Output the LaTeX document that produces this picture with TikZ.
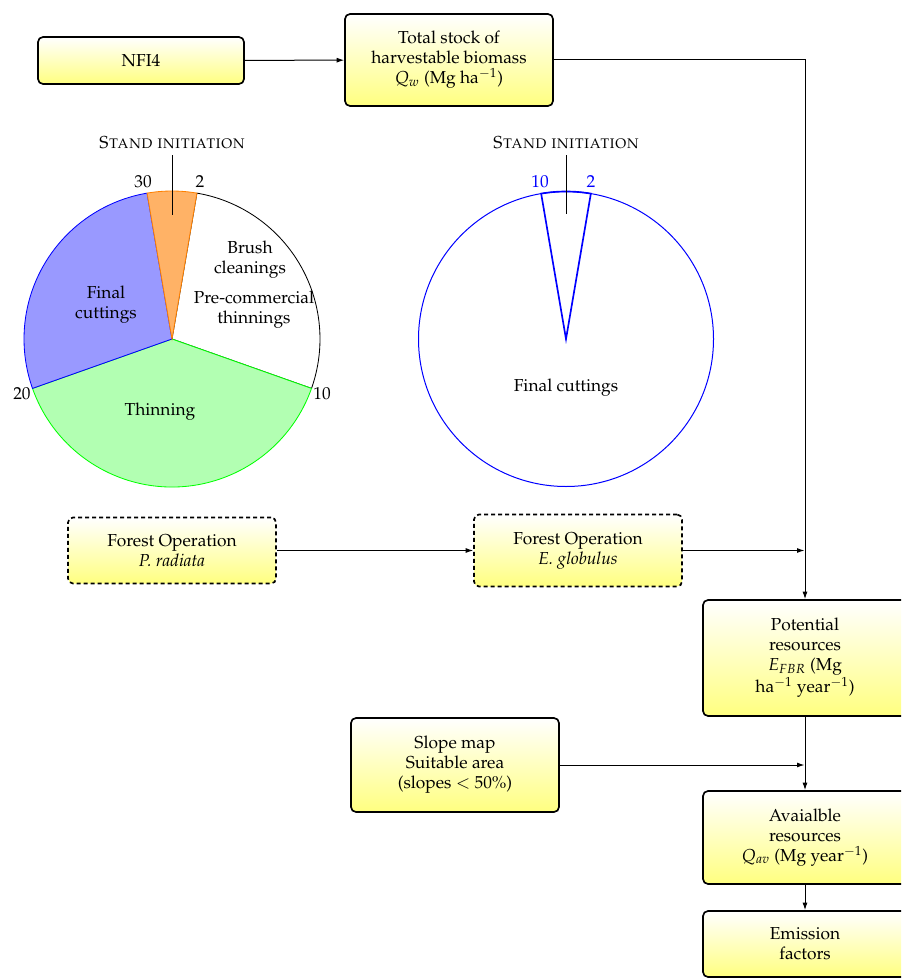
\documentclass[tikz,border=0pt]{standalone}
\usepackage[T1]{fontenc}
\usepackage{mathpazo}
\usetikzlibrary{arrows.meta}
\begin{document}
\begin{tikzpicture}[x=0.6pt,y=0.6pt,
  every node/.style={font=\fontsize{10.4pt}{12pt}\selectfont},
  box/.style={draw=black, line width=1pt, rounded corners=3pt, top color=white, bottom color=yellow!50, align=center, inner sep=2pt},
  dbox/.style={box, dash pattern=on 2.4pt off 1.8pt},
  conn/.style={-{Latex[length=4.5pt,width=3pt]}, line width=0.6pt},
  lbl/.style={inner sep=1pt},
  pie/.style={line width=0.5pt}]
\useasboundingbox (0,0) rectangle (901,-979);
\clip (0,0) rectangle (901,-979);

% boxes
\node[box, minimum width=123.6pt, minimum height=28.2pt] (nfi) at (141,-60.5) {NFI4};
\node[box, minimum width=124.8pt, minimum height=55.2pt] (tot) at (449,-60) {Total stock of\\harvestable biomass\\$Q_w$ (Mg ha$^{-1}$)};
\node[dbox, minimum width=124.8pt, minimum height=39.6pt] (fop) at (172,-550.5) {Forest Operation\\\textit{P. radiata}};
\node[dbox, minimum width=124.8pt, minimum height=43.2pt] (foe) at (578,-550.5) {Forest Operation\\\textit{E. globulus}};
\node[box, minimum width=122.4pt, minimum height=69.6pt] (pot) at (805,-658) {Potential\\resources\\$E_{FBR}$ (Mg\\ha$^{-1}$ year$^{-1}$)};
\node[box, minimum width=124.8pt, minimum height=56.4pt] (slope) at (455,-765) {Slope map\\Suitable area\\(slopes $<$ 50\%)};
\node[box, minimum width=122.4pt, minimum height=55.8pt] (avail) at (805,-837.5) {Avaialble\\resources\\$Q_{av}$ (Mg year$^{-1}$)};
\node[box, minimum width=122.4pt, minimum height=39.6pt] (emis) at (805,-944) {Emission\\factors};

% connectors
\coordinate (j1) at (804.5,-550.5);
\coordinate (j2) at (804.5,-765);
\draw[conn] (nfi) -- (tot);
\draw[conn] (tot.east) -| (pot.north);
\draw[conn] (fop) -- (foe);
\draw[conn] (foe.east) -- (j1);
\draw[conn] (slope.east) -- (j2);
\draw[conn] (pot) -- (avail);
\draw[conn] (avail) -- (emis);

% pie 1 (P. radiata)
\coordinate (c1) at (172,-339);
\draw[pie, draw=black] (c1) -- ++(-19.5:148) arc[start angle=-19.5, end angle=80.3, radius=148] -- cycle;
\filldraw[pie, fill=green!30, draw=green] (c1) -- ++(199.5:148) arc[start angle=199.5, end angle=340.5, radius=148] -- cycle;
\filldraw[pie, fill=blue!40, draw=blue] (c1) -- ++(99.7:148) arc[start angle=99.7, end angle=199.5, radius=148] -- cycle;
\filldraw[pie, fill=orange!60, draw=orange] (c1) -- ++(80.3:148) arc[start angle=80.3, end angle=99.7, radius=148] -- cycle;
\node[lbl] (p30) at (143,-182) {30};
\node[lbl] (p2) at (200,-182) {2};
\node[lbl] (p10) at (322,-394) {10};
\node[lbl] (p20) at (22,-394) {20};
\node[align=center] (brush) at (250,-260) {Brush\\cleanings};
\node[align=center] (prec) at (254,-310) {Pre-commercial\\thinnings};
\node[align=center] (fc1) at (106,-305) {Final\\cuttings};
\node (thin) at (160,-412) {Thinning};
\node (si1) at (172,-143) {\textsc{Stand initiation}};
\coordinate (s1end) at (172,-215);
\draw[line width=0.6pt] (si1.south) -- (s1end);

% pie 2 (E. globulus)
\coordinate (c2) at (566,-339);
\draw[blue, line width=0.6pt] (c2) circle[radius=147.5];
\draw[blue, line width=1pt] (c2) -- ++(80.3:147.5) arc[start angle=80.3, end angle=99.7, radius=147.5] -- cycle;
\node[lbl, text=blue] (q10) at (540,-182) {10};
\node[lbl, text=blue] (q2) at (591,-182) {2};
\node (fc2) at (566,-388) {Final cuttings};
\node (si2) at (566,-143) {\textsc{Stand initiation}};
\coordinate (s2end) at (566,-214);
\draw[line width=0.6pt] (si2.south) -- (s2end);
\end{tikzpicture}
\end{document}
